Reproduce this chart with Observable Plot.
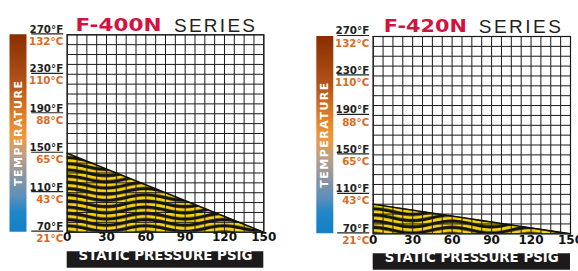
<!DOCTYPE html>
<html><head><meta charset="utf-8">
<script src="https://cdn.jsdelivr.net/npm/d3@7"></script>
<script src="https://cdn.jsdelivr.net/npm/@observablehq/plot@0.6"></script>
<style>
html,body{margin:0;padding:0;background:#fff;}
body{width:578px;height:271px;overflow:hidden;position:relative;}
#p1,#p2{position:absolute;top:0;}
#p1{left:0;} #p2{left:306px;}
</style></head>
<body><div id="p1"></div><div id="p2"></div>
<script>
// ---- data ----
const pressure = [0, 150];
const f400Temp = [150, 70];
const f420Temp = [100, 70];
const models = ["F-400N", "F-420N"];
const seriesWord = "SERIES";
const tempTicksF = [70, 110, 150, 190, 230, 270];
const tempLabelsF = ["70°F", "110°F", "150°F", "190°F", "230°F", "270°F"];
const tempLabelsC = ["21°C", "43°C", "65°C", "88°C", "110°C", "132°C"];
const pressureTicks = [0, 30, 60, 90, 120, 150];
const gridPressure = [0, 7.5, 15, 22.5, 30, 37.5, 45, 52.5, 60, 67.5, 75, 82.5, 90, 97.5, 105, 112.5, 120, 127.5, 135, 142.5, 150];
const gridTemp = [70, 80, 90, 100, 110, 120, 130, 140, 150, 160, 170, 180, 190, 200, 210, 220, 230, 240, 250, 260, 270];
const xLabel = "STATIC PRESSURE PSIG";
const yLabel = "TEMPERATURE";

const FONT = "DejaVu Sans";

function panel(cfg) {
  const {id, model, temps, width, mL, mR, mT, mB, tickDy, barDy, titleDy, titleDx1, titleDx2, barDx, lens} = cfg;
  const data = pressure.map((p, i) => ({p, t: temps[i]}));
  const labels = tempTicksF.map((f, i) => ({f, fl: tempLabelsF[i], cl: tempLabelsC[i]}));
  const chart = Plot.plot({
    width, height: 271,
    marginLeft: mL, marginRight: mR, marginTop: mT, marginBottom: mB,
    x: {domain: [0, 150], axis: null},
    y: {domain: [70, 270], axis: null},
    style: {background: "transparent", overflow: "visible"},
    marks: [
      Plot.areaY(data, {x: "p", y1: 70, y2: "t", fill: `url(#waves-${id})`}),
      Plot.ruleX(gridPressure, {stroke: "#1a1a1a", strokeWidth: 1}),
      Plot.ruleY(gridTemp, {stroke: "#1a1a1a", strokeWidth: 1}),
      Plot.line(data, {x: "p", y: "t", stroke: "#111", strokeWidth: 1.5}),
      Plot.frame({stroke: "#1a1a1a", strokeWidth: 1.2}),
      // temperature gradient bar
      Plot.ruleX([0], {y1: 70, y2: 270, dx: barDx, stroke: `url(#tg-${id})`, strokeWidth: 17}),
      Plot.text([yLabel], {frameAnchor: "left", textAnchor: "middle", dx: barDx, rotate: -90, fill: "white", fontWeight: "bold", fontSize: 11, fontFamily: FONT}),
      // y labels with underline
      Plot.ruleY(tempTicksF, {x1: 0, x2: 0, insetLeft: -35.5, insetRight: 3.5, dy: -1, stroke: "#222", strokeWidth: 1.2}),
      Plot.text(labels, {x: 0, y: "f", text: "fl", textAnchor: "end", dx: -4, dy: -5.5, fontWeight: "bold", fontSize: 10.3, fill: "#231f20", fontFamily: FONT}),
      Plot.text(labels, {x: 0, y: "f", text: "cl", textAnchor: "end", dx: -4, dy: 6.8, fontWeight: "bold", fontSize: 10.3, fill: "#dc6a1f", fontFamily: FONT}),
      // x tick labels
      Plot.text(pressureTicks, {x: d => d, text: d => String(d), frameAnchor: "bottom", dy: tickDy, fontWeight: "bold", fontSize: 12, fill: "#111", fontFamily: FONT}),
      // x label bar
      Plot.ruleY([70], {x1: 0, x2: 150, dy: barDy, stroke: "#1c1a1a", strokeWidth: 16.5}),
      Plot.text([xLabel], {frameAnchor: "bottom", dy: barDy + 0.5, fill: "white", fontWeight: "bold", fontSize: 13.5, fontFamily: FONT}),
      // title
      Plot.text([model], {frameAnchor: "top", dy: titleDy, dx: titleDx1, textAnchor: "end", fill: "#d3123f", fontWeight: "bold", fontSize: 17.5, fontFamily: FONT}),
      Plot.text([seriesWord], {frameAnchor: "top", dy: titleDy, dx: titleDx2, textAnchor: "start", fill: "#231f20", fontSize: 19, fontFamily: "Liberation Sans"})
    ]
  });

  const svg = d3.select(chart.tagName.toLowerCase() === "svg" ? chart : chart.querySelector("svg"));
  const defs = svg.insert("defs", ":first-child");
  const xs = chart.scale("x"), ys = chart.scale("y");
  const top = ys.apply(270), bottom = ys.apply(70);
  // temperature gradient
  const lg = defs.append("linearGradient").attr("id", `tg-${id}`)
    .attr("gradientUnits", "userSpaceOnUse").attr("x1", 0).attr("x2", 0).attr("y1", top).attr("y2", bottom);
  [[0, "#8a2d00"], [0.25, "#b4541a"], [0.42, "#e0822a"], [0.52, "#ec9a40"], [0.62, "#b9a08a"], [0.72, "#8c96a0"], [0.82, "#5d8fbb"], [0.9, "#1f86c9"], [1, "#1580c6"]]
    .forEach(([o, c]) => lg.append("stop").attr("offset", o).attr("stop-color", c));
  // wavy stripe pattern (decoration)
  const wl = xs.apply(60) - xs.apply(0);
  const period = 6.2, amp = 2.8;
  const pat = defs.append("pattern").attr("id", `waves-${id}`).attr("patternUnits", "userSpaceOnUse")
    .attr("x", xs.apply(0)).attr("y", bottom).attr("width", wl).attr("height", period);
  pat.append("rect").attr("width", wl).attr("height", period).attr("fill", "#f6d30c");
  for (let k = -1; k <= 2; k++) {
    const pts = [];
    for (let px = -1; px <= wl + 1; px += 1) pts.push([px, k * period + period / 2 - amp * Math.cos(2 * Math.PI * px / wl)]);
    pat.append("path").attr("d", d3.line()(pts)).attr("fill", "none").attr("stroke", "#141414").attr("stroke-width", 3.2);
  }
  // stretch texts to reference widths
  svg.selectAll("text").each(function () {
    const t = this.textContent;
    if (lens[t]) {
      this.setAttribute("textLength", lens[t][0]);
      this.setAttribute("lengthAdjust", lens[t][1]);
    }
  });
  return chart;
}

document.getElementById("p1").append(panel({
  id: "a", model: models[0], temps: f400Temp, width: 306, mL: 66.7, mR: 42.7, mT: 34.3, mB: 39.3,
  tickDy: 9, barDy: 27.3, titleDy: -16.3, titleDx1: -4, titleDx2: 8.5, barDx: -49.2,
  lens: {"F-400N": [86, "spacingAndGlyphs"], "SERIES": [81, "spacing"], "STATIC PRESSURE PSIG": [174, "spacingAndGlyphs"], "TEMPERATURE": [105, "spacing"]}
}));
document.getElementById("p2").append(panel({
  id: "b", model: models[1], temps: f420Temp, width: 272, mL: 66.7, mR: 8, mT: 36, mB: 37.7,
  tickDy: 10.5, barDy: 27.8, titleDy: -17.3, titleDx1: -5, titleDx2: 7, barDx: -48.4,
  lens: {"F-420N": [83, "spacingAndGlyphs"], "SERIES": [82, "spacing"], "STATIC PRESSURE PSIG": [174, "spacingAndGlyphs"], "TEMPERATURE": [105, "spacing"]}
}));
</script>
</body></html>
